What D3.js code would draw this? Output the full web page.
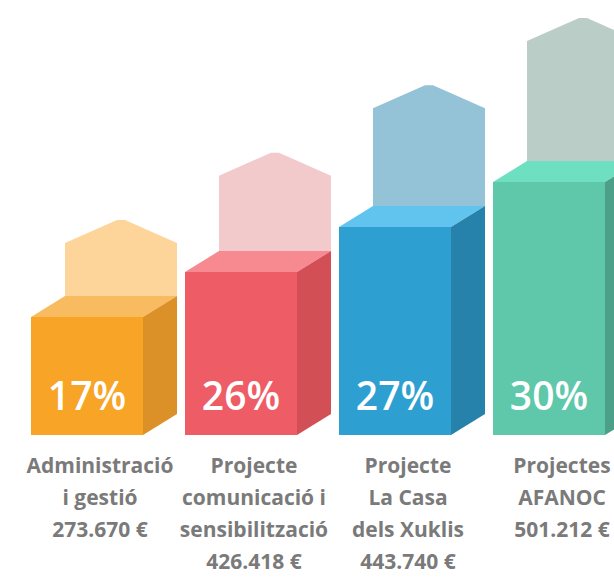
<!DOCTYPE html>
<html>
<head>
<meta charset="utf-8">
<script src="https://cdn.jsdelivr.net/npm/d3@7"></script>
<style>
  html, body { margin: 0; padding: 0; background: #fff; }
  .pct { font-family: "Open Sans", sans-serif; font-weight: 600; fill: #fff; }
  .lbl { font-family: "Open Sans", sans-serif; font-weight: 700; fill: #7a7a7a; }
</style>
</head>
<body>
<svg id="chart"></svg>
<script>
// chart data
const categories = ['Administració i gestió', 'Projecte comunicació i sensibilització', 'Projecte La Casa dels Xuklis', 'Projectes AFANOC'];
const labelLines = [
  ['Administració', 'i gestió'],
  ['Projecte', 'comunicació i', 'sensibilització'],
  ['Projecte', 'La Casa', 'dels Xuklis'],
  ['Projectes', 'AFANOC']
];
const amounts = ['273.670 €', '426.418 €', '443.740 €', '501.212 €'];
const percents = [17, 26, 27, 30];

const frontColors = ['#f7a427', '#ee5d66', '#2e9fd1', '#5fc7aa'];
const sideColors  = ['#dc9128', '#d24f56', '#2681ab', '#4c9f88'];
const topColors   = ['#f9bb5f', '#f78990', '#60c4ef', '#6ee0c1'];
const ghostColors = ['#fdd59b', '#f2cacc', '#94c2d7', '#bbcdc7'];

const width = 614, height = 585;
const depthX = 34, depthY = 21;
const baseY = 435;

const svg = d3.select('#chart')
  .attr('width', width)
  .attr('height', height);

const data = categories.map((c, i) => ({
  category: c,
  lines: labelLines[i],
  amount: amounts[i],
  pct: percents[i],
  i: i
}));

// bars step up by rank of their share
const order = d3.scaleOrdinal().domain(percents.slice().sort(d3.ascending)).range([0, 1, 2, 3]);

const x = d3.scaleBand()
  .domain(categories)
  .range([31, 605])
  .paddingInner(0.2727)
  .paddingOuter(0);

const yTop = d3.scaleLinear().domain([0, 3]).range([317, 182]);
const yGhost = d3.scaleLinear().domain([0, 3]).range([220, 18]);

const g = svg.append('g');

const bar = g.selectAll('g.bar')
  .data(data)
  .enter()
  .append('g')
  .attr('class', 'bar');

bar.each(function(d) {
  const grp = d3.select(this);
  const x0 = x(d.category);
  const x1 = x0 + x.bandwidth();
  const top = yTop(order(d.pct));
  const peak = yGhost(order(d.pct));
  const shoulder = peak + 23;
  const mid = (x0 + depthX + x1 + depthX) / 2;

  // pale arrow behind the cube
  grp.append('path')
    .attr('d', d3.line()([
      [x0 + depthX, top - depthY],
      [x0 + depthX, shoulder],
      [mid - 4, peak],
      [mid + 4, peak],
      [x1 + depthX, shoulder],
      [x1 + depthX, top - depthY]
    ]) + 'Z')
    .attr('fill', ghostColors[d.i]);

  grp.append('path')
    .attr('d', d3.line()([
      [x0, top], [x0 + depthX, top - depthY], [x1 + depthX, top - depthY], [x1, top]
    ]) + 'Z')
    .attr('fill', topColors[d.i]);

  grp.append('path')
    .attr('d', d3.line()([
      [x1, top], [x1 + depthX, top - depthY], [x1 + depthX, baseY - depthY], [x1, baseY]
    ]) + 'Z')
    .attr('fill', sideColors[d.i]);

  grp.append('rect')
    .attr('x', x0)
    .attr('y', top)
    .attr('width', x.bandwidth())
    .attr('height', baseY - top)
    .attr('fill', frontColors[d.i]);

  grp.append('text')
    .attr('class', 'pct')
    .attr('x', (x0 + x1) / 2)
    .attr('y', 410)
    .attr('text-anchor', 'middle')
    .attr('font-size', 39)
    .text(d.pct + '%');

  const lbl = grp.append('text')
    .attr('class', 'lbl')
    .attr('text-anchor', 'middle')
    .attr('font-size', 21);

  d.lines.concat([d.amount]).forEach((t, k) => {
    lbl.append('tspan')
      .attr('x', x0 + 69)
      .attr('y', 473 + k * 32)
      .text(t);
  });
});
</script>
</body>
</html>
